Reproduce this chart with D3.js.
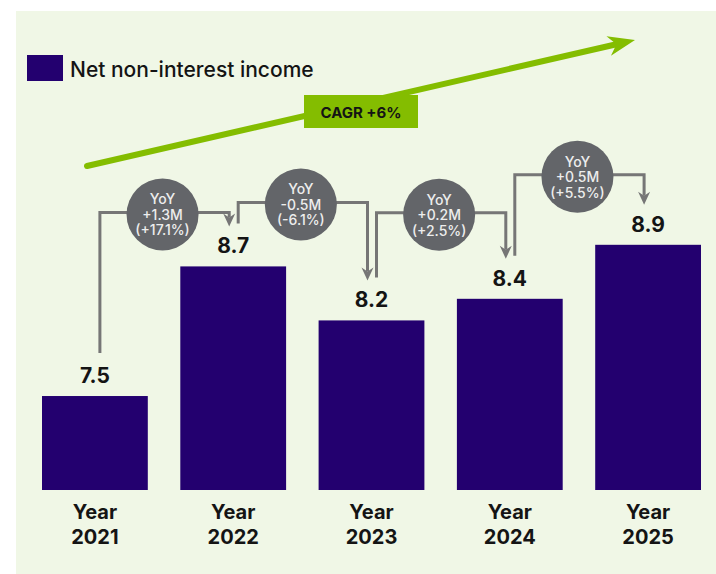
<!DOCTYPE html>
<html>
<head>
<meta charset="utf-8">
<script src="https://cdn.jsdelivr.net/npm/d3@7"></script>
<style>
  html, body { margin: 0; padding: 0; background: #ffffff; }
  svg { display: block; }
  text { font-family: Inter, "Open Sans", sans-serif; }
</style>
</head>
<body>
<svg id="chart" width="716" height="574"></svg>
<script>
// ---- data ----
const years = ["2021", "2022", "2023", "2024", "2025"];
const yearPrefix = "Year";
const income = [7.5, 8.7, 8.2, 8.4, 8.9];
const seriesName = "Net non-interest income";
const yoyChange = ["+1.3M", "-0.5M", "+0.2M", "+0.5M"];
const yoyPct = ["(+17.1%)", "(-6.1%)", "(+2.5%)", "(+5.5%)"];
const cagrLabel = "CAGR +6%";

// ---- style ----
const W = 716, H = 574;
const panelFill = "#f0f7e6";
const barFill = "#23006f";
const green = "#84bd00";
const connGrey = "#767676";
const bubbleGrey = "#636569";
const ink = "#141414";

const svg = d3.select("#chart");

// panel background
svg.append("rect")
  .attr("x", 16).attr("y", 11)
  .attr("width", W - 16).attr("height", H - 11)
  .attr("fill", panelFill);

// ---- scales ----
const x = d3.scaleBand()
  .domain(years)
  .range([42, 701])
  .paddingInner(0.235)
  .paddingOuter(0);

const y = d3.scaleLinear()
  .domain([6.63, 9])
  .range([490, 234]);

const bw = x.bandwidth();
const cx = i => x(years[i]) + bw / 2;

// ---- bars ----
svg.append("g").selectAll("rect")
  .data(income)
  .join("rect")
  .attr("x", (d, i) => x(years[i]))
  .attr("y", d => y(d))
  .attr("width", bw)
  .attr("height", d => y.range()[0] - y(d))
  .attr("fill", barFill);

// value labels
const labelGap = 13, digitH = 15;
const labelBase = i => y(income[i]) - labelGap;
const labelTop = i => labelBase(i) - digitH;

svg.append("g").selectAll("text")
  .data(income)
  .join("text")
  .attr("x", (d, i) => cx(i))
  .attr("y", (d, i) => labelBase(i))
  .attr("text-anchor", "middle")
  .attr("font-size", 21)
  .attr("font-weight", 700)
  .attr("fill", ink)
  .text(d => d3.format(".1f")(d));

// category axis labels (two lines)
const xAxis = svg.append("g");
const cat = xAxis.selectAll("text")
  .data(years)
  .join("text")
  .attr("x", (d, i) => cx(i))
  .attr("y", 519)
  .attr("text-anchor", "middle")
  .attr("font-size", 20)
  .attr("font-weight", 700)
  .attr("fill", ink);
cat.append("tspan").attr("x", (d, i) => cx(i)).attr("dy", 0).text(yearPrefix);
cat.append("tspan").attr("x", (d, i) => cx(i)).attr("dy", 25).text(d => d);

// ---- legend ----
svg.append("rect")
  .attr("x", 27).attr("y", 55)
  .attr("width", 36).attr("height", 26)
  .attr("fill", barFill);
svg.append("text")
  .attr("x", 70).attr("y", 69)
  .attr("dominant-baseline", "central")
  .attr("font-size", 21)
  .attr("font-weight", 500)
  .attr("fill", ink)
  .text(seriesName);

// ---- CAGR trend arrow ----
const arrowStart = [87, 166], arrowTip = [635, 40];
const dx = arrowTip[0] - arrowStart[0], dy = arrowTip[1] - arrowStart[1];
const len = Math.hypot(dx, dy);
const u = [dx / len, dy / len], n = [-u[1], u[0]];
const headLen = 27, headHalf = 10, notch = 19;
const at = (a, b) => [arrowTip[0] + u[0] * a + n[0] * b, arrowTip[1] + u[1] * a + n[1] * b];

svg.append("line")
  .attr("x1", arrowStart[0]).attr("y1", arrowStart[1])
  .attr("x2", at(-notch, 0)[0]).attr("y2", at(-notch, 0)[1])
  .attr("stroke", green)
  .attr("stroke-width", 6)
  .attr("stroke-linecap", "round");
svg.append("path")
  .attr("d", d3.line()([arrowTip, at(-headLen, headHalf), at(-notch, 0), at(-headLen, -headHalf)]) + "Z")
  .attr("fill", green);

const cagrBox = { x: 304, y: 95, w: 114, h: 33 };
svg.append("rect")
  .attr("x", cagrBox.x).attr("y", cagrBox.y)
  .attr("width", cagrBox.w).attr("height", cagrBox.h)
  .attr("fill", green);
svg.append("text")
  .attr("x", cagrBox.x + cagrBox.w / 2)
  .attr("y", cagrBox.y + cagrBox.h / 2 + 1)
  .attr("text-anchor", "middle")
  .attr("dominant-baseline", "central")
  .attr("font-size", 15)
  .attr("font-weight", 700)
  .attr("fill", ink)
  .text(cagrLabel);

// ---- year-over-year connectors ----
const elbowLift = [14, 21, 46, 30];
const conn = svg.append("g");
yoyChange.forEach((chg, i) => {
  const sx = cx(i) + 5, sy = labelTop(i) - 15;
  const ex = cx(i + 1) - 4, ty = labelTop(i + 1) - 12;
  const ey = Math.min(sy, ty) - elbowLift[i];

  conn.append("path")
    .attr("d", d3.line()([[sx, sy], [sx, ey], [ex, ey], [ex, ty - 9]]))
    .attr("fill", "none")
    .attr("stroke", connGrey)
    .attr("stroke-width", 3);
  conn.append("path")
    .attr("d", d3.line()([[ex, ty], [ex - 6, ty - 13], [ex, ty - 9], [ex + 6, ty - 13]]) + "Z")
    .attr("fill", connGrey);

  const bx = (sx + ex) / 2 - 2, by = ey + 2;
  conn.append("circle")
    .attr("cx", bx).attr("cy", by).attr("r", 36)
    .attr("fill", bubbleGrey);
  const t = conn.append("text")
    .attr("text-anchor", "middle")
    .attr("font-size", 14)
    .attr("font-weight", 500)
    .attr("fill", "#ededed");
  ["YoY", chg, yoyPct[i]].forEach((line, k) => {
    t.append("tspan")
      .attr("x", bx)
      .attr("y", by + (k - 1) * 15.5)
      .attr("dominant-baseline", "central")
      .text(line);
  });
});
</script>
</body>
</html>
